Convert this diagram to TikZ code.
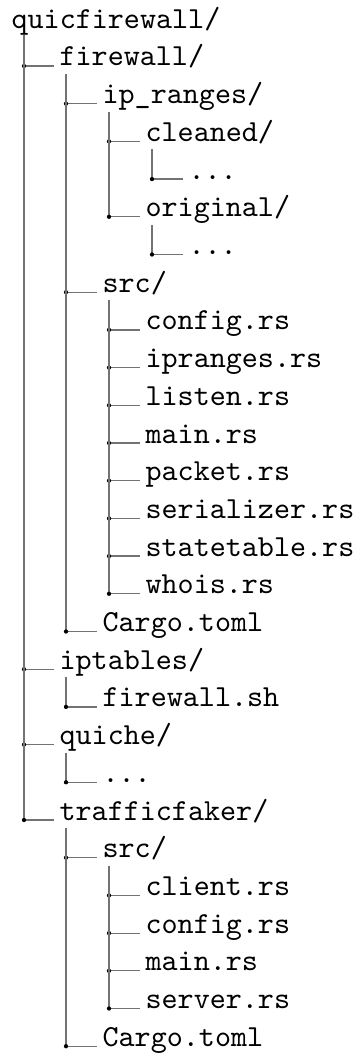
\documentclass[tikz,border=0pt]{standalone}
\usetikzlibrary{calc}
\tikzset{
  entry/.style={font=\ttfamily,anchor=base west,inner sep=0pt},
  branch/.style={draw=black!55,line width=0.4pt},
  joint/.style={circle,fill=black,inner sep=0pt,minimum size=1.4pt}
}

\begin{document}
\begin{tikzpicture}[x=0.327pt,y=-0.327pt]
\useasboundingbox (0,0) rectangle (357,1053);
% root
\node[entry] (root) at (11,28.3) {quicfirewall/};
% firewall
\node[entry] (fw) at (59,66.0) {firewall/};
\node[entry] (ipr) at (102,103.7) {ip\_ranges/};
\node[entry] (cln) at (145,141.4) {cleaned/};
\node[entry] (clndots) at (188,179.1) {...};
\node[entry] (orig) at (145,216.8) {original/};
\node[entry] (origdots) at (188,254.5) {...};
\node[entry] (fwsrc) at (102,292.2) {src/};
\node[entry] (cfg) at (145,329.9) {config.rs};
\node[entry] (iprs) at (145,367.6) {ipranges.rs};
\node[entry] (lis) at (145,405.3) {listen.rs};
\node[entry] (fwmain) at (145,443.0) {main.rs};
\node[entry] (pkt) at (145,480.7) {packet.rs};
\node[entry] (ser) at (145,518.4) {serializer.rs};
\node[entry] (st) at (145,556.1) {statetable.rs};
\node[entry] (who) at (145,593.8) {whois.rs};
\node[entry] (fwcargo) at (102,631.5) {Cargo.toml};
% iptables
\node[entry] (ipt) at (59,669.2) {iptables/};
\node[entry] (fwsh) at (102,706.9) {firewall.sh};
% quiche
\node[entry] (qch) at (59,744.6) {quiche/};
\node[entry] (qchdots) at (102,782.3) {...};
% trafficfaker
\node[entry] (tf) at (59,820.0) {trafficfaker/};
\node[entry] (tfsrc) at (102,857.7) {src/};
\node[entry] (cli) at (145,895.4) {client.rs};
\node[entry] (tfcfg) at (145,933.1) {config.rs};
\node[entry] (tfmain) at (145,970.8) {main.rs};
\node[entry] (srv) at (145,1008.5) {server.rs};
\node[entry] (tfcargo) at (102,1046.2) {Cargo.toml};

% branches
\draw[branch] ($(root.base west)+(13,7)$) |- node[joint,pos=0.5]{} ($(fw.base west)+(-5,0)$);
\draw[branch] ($(root.base west)+(13,7)$) |- node[joint,pos=0.5]{} ($(ipt.base west)+(-5,0)$);
\draw[branch] ($(root.base west)+(13,7)$) |- node[joint,pos=0.5]{} ($(qch.base west)+(-5,0)$);
\draw[branch] ($(root.base west)+(13,7)$) |- node[joint,pos=0.5]{} ($(tf.base west)+(-5,0)$);
\draw[branch] ($(fw.base west)+(7,8)$) |- node[joint,pos=0.5]{} ($(ipr.base west)+(-5,0)$);
\draw[branch] ($(fw.base west)+(7,8)$) |- node[joint,pos=0.5]{} ($(fwsrc.base west)+(-5,0)$);
\draw[branch] ($(fw.base west)+(7,8)$) |- node[joint,pos=0.5]{} ($(fwcargo.base west)+(-5,0)$);
\draw[branch] ($(ipr.base west)+(7,8)$) |- node[joint,pos=0.5]{} ($(cln.base west)+(-5,0)$);
\draw[branch] ($(ipr.base west)+(7,8)$) |- node[joint,pos=0.5]{} ($(orig.base west)+(-5,0)$);
\draw[branch] ($(cln.base west)+(7,8)$) |- node[joint,pos=0.5]{} ($(clndots.base west)+(-5,0)$);
\draw[branch] ($(orig.base west)+(7,8)$) |- node[joint,pos=0.5]{} ($(origdots.base west)+(-5,0)$);
\draw[branch] ($(fwsrc.base west)+(7,8)$) |- node[joint,pos=0.5]{} ($(cfg.base west)+(-5,0)$);
\draw[branch] ($(fwsrc.base west)+(7,8)$) |- node[joint,pos=0.5]{} ($(iprs.base west)+(-5,0)$);
\draw[branch] ($(fwsrc.base west)+(7,8)$) |- node[joint,pos=0.5]{} ($(lis.base west)+(-5,0)$);
\draw[branch] ($(fwsrc.base west)+(7,8)$) |- node[joint,pos=0.5]{} ($(fwmain.base west)+(-5,0)$);
\draw[branch] ($(fwsrc.base west)+(7,8)$) |- node[joint,pos=0.5]{} ($(pkt.base west)+(-5,0)$);
\draw[branch] ($(fwsrc.base west)+(7,8)$) |- node[joint,pos=0.5]{} ($(ser.base west)+(-5,0)$);
\draw[branch] ($(fwsrc.base west)+(7,8)$) |- node[joint,pos=0.5]{} ($(st.base west)+(-5,0)$);
\draw[branch] ($(fwsrc.base west)+(7,8)$) |- node[joint,pos=0.5]{} ($(who.base west)+(-5,0)$);
\draw[branch] ($(ipt.base west)+(7,8)$) |- node[joint,pos=0.5]{} ($(fwsh.base west)+(-5,0)$);
\draw[branch] ($(qch.base west)+(7,8)$) |- node[joint,pos=0.5]{} ($(qchdots.base west)+(-5,0)$);
\draw[branch] ($(tf.base west)+(7,8)$) |- node[joint,pos=0.5]{} ($(tfsrc.base west)+(-5,0)$);
\draw[branch] ($(tf.base west)+(7,8)$) |- node[joint,pos=0.5]{} ($(tfcargo.base west)+(-5,0)$);
\draw[branch] ($(tfsrc.base west)+(7,8)$) |- node[joint,pos=0.5]{} ($(cli.base west)+(-5,0)$);
\draw[branch] ($(tfsrc.base west)+(7,8)$) |- node[joint,pos=0.5]{} ($(tfcfg.base west)+(-5,0)$);
\draw[branch] ($(tfsrc.base west)+(7,8)$) |- node[joint,pos=0.5]{} ($(tfmain.base west)+(-5,0)$);
\draw[branch] ($(tfsrc.base west)+(7,8)$) |- node[joint,pos=0.5]{} ($(srv.base west)+(-5,0)$);
\end{tikzpicture}
\end{document}
